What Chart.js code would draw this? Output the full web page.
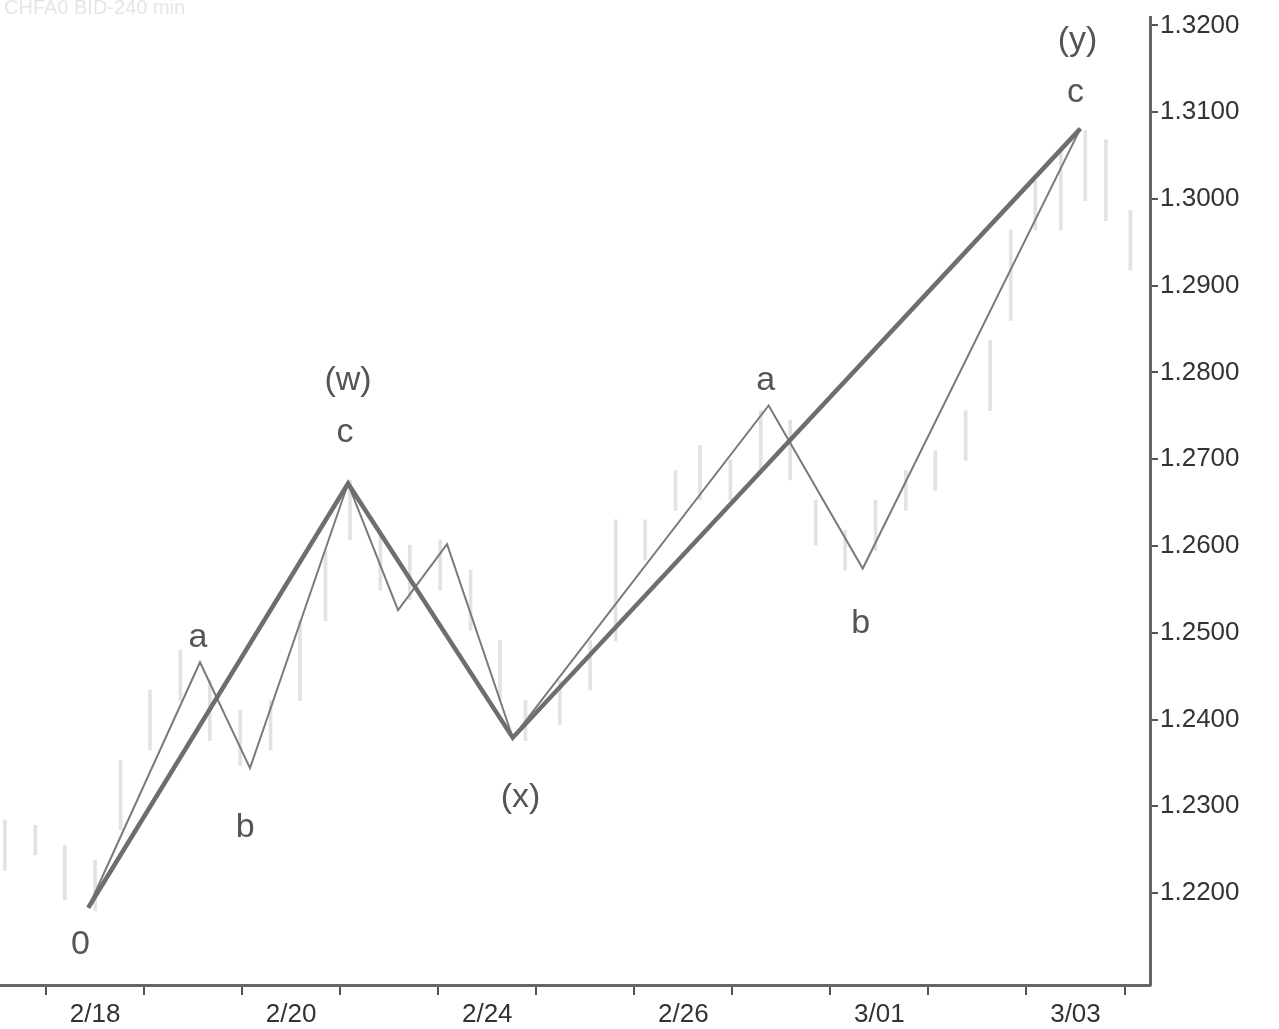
<!DOCTYPE html>
<html>
<head>
<meta charset="utf-8">
<script src="https://cdn.jsdelivr.net/npm/chart.js@4.4.0/dist/chart.umd.min.js"></script>
<style>
  html, body { margin: 0; padding: 0; background: #fff; }
  #wrap { width: 1279px; height: 1029px; }
</style>
</head>
<body>
<div id="wrap"><canvas id="c"></canvas></div>
<script>
// x = trading day index (2/18 = 0 ... 3/03 = 10), y = price
const dateLabels = ['2/18', '2/20', '2/24', '2/26', '3/01', '3/03'];
const dateLabelPos = [0.5, 2.5, 4.5, 6.5, 8.5, 10.5];
const yTicks = [1.22, 1.23, 1.24, 1.25, 1.26, 1.27, 1.28, 1.29, 1.30, 1.31, 1.32];

// faint 240-min price bars in the background
const barX = [-0.42, -0.11, 0.19, 0.50, 0.76, 1.06, 1.37, 1.67, 1.98, 2.29, 2.59, 2.85, 3.10, 3.41, 3.71, 4.02, 4.33, 4.63, 4.89, 5.24, 5.55, 5.81, 6.11, 6.42, 6.67, 6.98, 7.29, 7.59, 7.85, 8.15, 8.46, 8.77, 9.07, 9.38, 9.63, 9.84, 10.09, 10.35, 10.60, 10.81, 11.06];
const barHigh = [1.2284, 1.2278, 1.2255, 1.2238, 1.2353, 1.2434, 1.2480, 1.2445, 1.2411, 1.2422, 1.2514, 1.2595, 1.2676, 1.2618, 1.2601, 1.2607, 1.2572, 1.2491, 1.2422, 1.2445, 1.2491, 1.2630, 1.2630, 1.2687, 1.2716, 1.2699, 1.2756, 1.2745, 1.2653, 1.2618, 1.2653, 1.2687, 1.2710, 1.2756, 1.2837, 1.2964, 1.3021, 1.3056, 1.3079, 1.3068, 1.2987];
const barLow = [1.2226, 1.2244, 1.2192, 1.2180, 1.2273, 1.2365, 1.2422, 1.2376, 1.2347, 1.2365, 1.2422, 1.2514, 1.2607, 1.2549, 1.2538, 1.2549, 1.2503, 1.2422, 1.2376, 1.2394, 1.2434, 1.2491, 1.2584, 1.2641, 1.2653, 1.2653, 1.2687, 1.2676, 1.2601, 1.2572, 1.2595, 1.2641, 1.2664, 1.2699, 1.2756, 1.2860, 1.2964, 1.2964, 1.2998, 1.2975, 1.2918];

// minor wave count (thin line)
const minorX = [0.43, 1.57, 2.08, 3.08, 3.59, 4.09, 4.76, 7.37, 8.33, 10.55];
const minorY = [1.2183, 1.2466, 1.2344, 1.2672, 1.2526, 1.2602, 1.2379, 1.2762, 1.2574, 1.3081];

// major wave count (bold line)
const majorX = [0.43, 3.08, 4.76, 10.55];
const majorY = [1.2183, 1.2672, 1.2379, 1.3081];

// wave labels
const waveText = ['0', 'a', 'b', '(w)', 'c', '(x)', 'a', 'b', '(y)', 'c'];
const waveX = [0.35, 1.55, 2.03, 3.08, 3.05, 4.84, 7.34, 8.31, 10.52, 10.50];
const waveY = [1.2140, 1.2494, 1.2275, 1.2791, 1.2731, 1.2310, 1.2791, 1.2510, 1.3182, 1.3122];

const pts = (xs, ys) => xs.map((x, i) => ({ x, y: ys[i] }));

const overlay = {
  id: 'overlay',
  afterDraw(chart) {
    const { ctx, scales: { x, y } } = chart;
    ctx.save();
    ctx.fillStyle = '#555';
    ctx.font = '34px "Liberation Sans", Arial, sans-serif';
    ctx.textAlign = 'center';
    ctx.textBaseline = 'middle';
    waveText.forEach((t, i) => ctx.fillText(t, x.getPixelForValue(waveX[i]), y.getPixelForValue(waveY[i])));
    ctx.fillStyle = '#333';
    ctx.font = '26px "Liberation Sans", Arial, sans-serif';
    dateLabels.forEach((t, i) => ctx.fillText(t, x.getPixelForValue(dateLabelPos[i]), y.bottom + 30));
    ctx.fillStyle = '#e6e6e6';
    ctx.font = '20px "Liberation Sans", Arial, sans-serif';
    ctx.textAlign = 'left';
    ctx.fillText('CHFA0 BID-240 min', 4, 8);
    ctx.restore();
  }
};

new Chart(document.getElementById('c'), {
  type: 'bar',
  data: {
    datasets: [
      { type: 'line', data: pts(majorX, majorY), borderColor: '#6e6e6e', borderWidth: 4.5, pointRadius: 0, tension: 0, order: 1 },
      { type: 'line', data: pts(minorX, minorY), borderColor: '#7a7a7a', borderWidth: 2, pointRadius: 0, tension: 0, order: 2 },
      { data: barX.map((x, i) => ({ x, y: [barLow[i], barHigh[i]] })), backgroundColor: '#e2e2e2', barThickness: 3, order: 3 }
    ]
  },
  plugins: [overlay],
  options: {
    responsive: true, maintainAspectRatio: false, animation: false,
    layout: { padding: 0 },
    plugins: { legend: { display: false }, tooltip: { enabled: false } },
    scales: {
      x: {
        type: 'linear', min: -0.47, max: 11.26, offset: false,
        afterBuildTicks: s => { s.ticks = [0,1,2,3,4,5,6,7,8,9,10,11].map(v => ({ value: v })); },
        afterFit: s => { s.height = 44; },
        ticks: { callback: () => '', padding: 0 },
        grid: { drawOnChartArea: false, tickLength: 10, color: '#555', lineWidth: 2, offset: false },
        border: { color: '#666', width: 3 }
      },
      y: {
        position: 'right', min: 1.2094, max: 1.3209,
        afterBuildTicks: s => { s.ticks = yTicks.map(v => ({ value: v })); },
        afterFit: s => { s.width = 129; },
        ticks: { callback: v => v.toFixed(4), color: '#333', font: { size: 26, family: '"Liberation Sans", Arial, sans-serif' }, padding: 2 },
        grid: { drawOnChartArea: false, tickLength: 8, color: '#555', lineWidth: 2 },
        border: { color: '#666', width: 3 }
      }
    }
  }
});
</script>
</body>
</html>
